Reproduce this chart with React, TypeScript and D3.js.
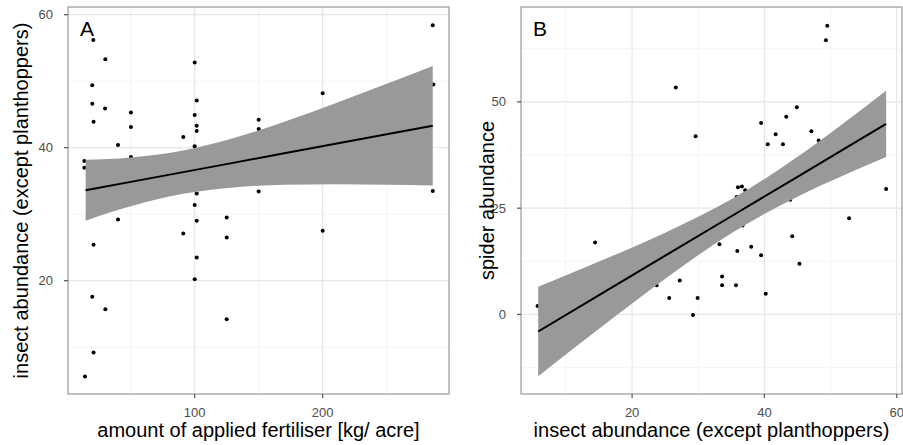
import React from 'react'
import { scaleLinear, area, line, curveMonotoneX } from "d3";

// panel A: fertiliser vs insect abundance
const fertA = [20.8, 30.2, 100, 20, 20, 30, 101.6, 50.2, 21, 100, 101.6, 101.6, 50.2, 150, 150, 91.1, 40.1, 100, 50.2, 13.8, 13.8,
    101.6, 150, 286, 286.5, 200, 286, 100, 40.1, 101.6, 125, 91.1, 125, 21, 101.6, 100, 20, 30.2, 125, 21, 14.3, 200];
const insectA = [56.2, 53.3, 52.8, 49.4, 46.6, 45.9, 47.1, 45.3, 43.9, 44.9, 43.3, 42.5, 43.1, 44.2, 42.8, 41.6, 40.4, 40.2, 38.6, 38.0, 37.0,
    33.1, 33.4, 58.4, 49.5, 48.2, 33.5, 31.4, 29.2, 29.0, 29.5, 27.1, 26.5, 25.4, 23.5, 20.2, 17.6, 15.7, 14.2, 9.2, 5.6, 27.5];

// lm fit + 95% band
const fitAx = [14.8, 50, 90, 130, 170, 210, 250, 286];
const fitAy = [33.6, 34.86, 36.29, 37.72, 39.15, 40.58, 42.01, 43.3];
const fitAlo = [29.03, 31.18, 33.02, 34.02, 34.41, 34.49, 34.42, 34.3];
const fitAhi = [38.17, 38.54, 39.56, 41.42, 43.89, 46.67, 49.6, 52.3];

// panel B: insect vs spider abundance
const insectB = [26.6, 29.6, 49.5, 49.3, 44.9, 43.3, 39.5, 47.1, 41.7, 40.5, 42.8, 48.2, 58.4, 36.0, 36.6, 37.1, 35.8, 36.7, 43.9,
    52.8, 44.2, 33.2, 35.9, 38.0, 39.5, 45.3, 33.6, 33.6, 35.7, 40.2, 29.9, 29.2, 14.4, 5.7, 23.7, 25.6, 27.2];
const spiderB = [53.4, 41.9, 67.9, 64.5, 48.7, 46.5, 45.0, 43.1, 42.4, 40.0, 40.0, 40.9, 29.5, 29.9, 30.1, 29.2, 27.6, 20.9, 27.0,
    22.6, 18.4, 16.5, 14.9, 15.9, 13.9, 11.9, 8.9, 6.9, 6.9, 4.9, 3.9, -0.1, 16.9, 2.0, 6.9, 3.9, 8.0];

// lm fit + 95% band
const fitBx = [5.8, 15, 25, 35, 45, 52, 58.4];
const fitBy = [-4.0, 4.54, 13.82, 23.1, 32.38, 38.87, 44.8];
const fitBlo = [-14.5, -3.37, 8.4, 19.12, 27.7, 32.72, 37.0];
const fitBhi = [6.5, 12.45, 19.24, 27.08, 37.06, 45.02, 52.6];

const ticksAx = [100, 200];
const minorAx = [50, 150, 250];
const ticksAy = [20, 40, 60];
const minorAy = [10, 30, 50];
const ticksBx = [20, 40, 60];
const minorBx = [10, 30, 50];
const ticksBy = [0, 25, 50];
const minorBy = [-12.5, 12.5, 37.5, 62.5];

const W = 903, H = 445;
const TOP = 7, BOTTOM = 394;
const FONT = "'Liberation Sans', Arial, Helvetica, sans-serif";

type PanelProps = {
    left: number, right: number, xDomain: [number, number], yDomain: [number, number],
    xs: number[], ys: number[], fx: number[], fy: number[], flo: number[], fhi: number[],
    xTicks: number[], xMinor: number[], yTicks: number[], yMinor: number[],
    label: string, xTitle: string, yTitle: string, yTitleX: number
}

const Panel = (p: PanelProps) => {
    const x = scaleLinear().domain(p.xDomain).range([p.left, p.right]);
    const y = scaleLinear().domain(p.yDomain).range([BOTTOM, TOP]);
    const band = p.fx.map((v, i) => ({ x: v, f: p.fy[i], lo: p.flo[i], hi: p.fhi[i] }));
    const areaGen = area<any>().curve(curveMonotoneX).x(d => x(d.x)).y0(d => y(d.lo)).y1(d => y(d.hi));
    const lineGen = line<any>().x(d => x(d.x)).y(d => y(d.f));
    const cx = (p.left + p.right) / 2;
    return (
        <g>
            <rect x={p.left} y={TOP} width={p.right - p.left} height={BOTTOM - TOP} fill="white" />
            {p.xMinor.map(v => <line key={'xm' + v} x1={x(v)} x2={x(v)} y1={TOP} y2={BOTTOM} stroke="#f4f4f4" strokeWidth={1} />)}
            {p.yMinor.map(v => <line key={'ym' + v} x1={p.left} x2={p.right} y1={y(v)} y2={y(v)} stroke="#f4f4f4" strokeWidth={1} />)}
            {p.xTicks.map(v => <line key={'xg' + v} x1={x(v)} x2={x(v)} y1={TOP} y2={BOTTOM} stroke="#e6e6e6" strokeWidth={1.2} />)}
            {p.yTicks.map(v => <line key={'yg' + v} x1={p.left} x2={p.right} y1={y(v)} y2={y(v)} stroke="#e6e6e6" strokeWidth={1.2} />)}
            {p.xs.map((v, i) => (
                <circle key={'pt' + i} cx={x(v)} cy={y(p.ys[i])} r={2} fill="black" />
            ))}
            <path d={areaGen(band) || ''} fill="#999999" />
            <path d={lineGen(band) || ''} fill="none" stroke="black" strokeWidth={2} />
            <rect x={p.left} y={TOP} width={p.right - p.left} height={BOTTOM - TOP} fill="none" stroke="#a0a0a0" strokeWidth={1.3} />
            {p.xTicks.map(v => (
                <g key={'xt' + v}>
                    <line x1={x(v)} x2={x(v)} y1={BOTTOM} y2={BOTTOM + 4} stroke="#555" strokeWidth={1.2} />
                    <text x={x(v)} y={416.5} textAnchor="middle" fontSize={13} fill="#4d4d4d" fontFamily={FONT}>{v}</text>
                </g>
            ))}
            {p.yTicks.map(v => (
                <g key={'yt' + v}>
                    <line x1={p.left - 4} x2={p.left} y1={y(v)} y2={y(v)} stroke="#555" strokeWidth={1.2} />
                    <text x={p.left - 15} y={y(v) + 4.5} textAnchor="end" fontSize={13} fill="#4d4d4d" fontFamily={FONT}>{v}</text>
                </g>
            ))}
            <text x={p.left + 12} y={36} fontSize={21} fill="black" fontFamily={FONT}>{p.label}</text>
            <text x={cx} y={437} textAnchor="middle" fontSize={20} fill="black" fontFamily={FONT}>{p.xTitle}</text>
            <text transform={`translate(${p.yTitleX},${(TOP + BOTTOM) / 2}) rotate(-90)`} textAnchor="middle" fontSize={20}
                fill="black" fontFamily={FONT}>{p.yTitle}</text>
        </g>
    );
}

export default function App() {
    return (
        <svg width={W} height={H} style={{ position: 'absolute', left: 0, top: 0, background: 'white' }}>
            <rect width={W} height={H} fill="white" />
            <Panel left={68} right={449} xDomain={[1.02, 298.7]} yDomain={[2.96, 61.16]} xs={fertA} ys={insectA}
                fx={fitAx} fy={fitAy} flo={fitAlo} fhi={fitAhi}
                xTicks={ticksAx} xMinor={minorAx} yTicks={ticksAy} yMinor={minorAy} label="A"
                xTitle="amount of applied fertiliser [kg/ acre]" yTitle="insect abundance (except planthoppers)" yTitleX={28} />
            <Panel left={521} right={902} xDomain={[3.2, 60.8]} yDomain={[-18.7, 72.3]} xs={insectB} ys={spiderB}
                fx={fitBx} fy={fitBy} flo={fitBlo} fhi={fitBhi}
                xTicks={ticksBx} xMinor={minorBx} yTicks={ticksBy} yMinor={minorBy} label="B"
                xTitle="insect abundance (except planthoppers)" yTitle="spider abundance" yTitleX={494} />
        </svg>
    );
}
